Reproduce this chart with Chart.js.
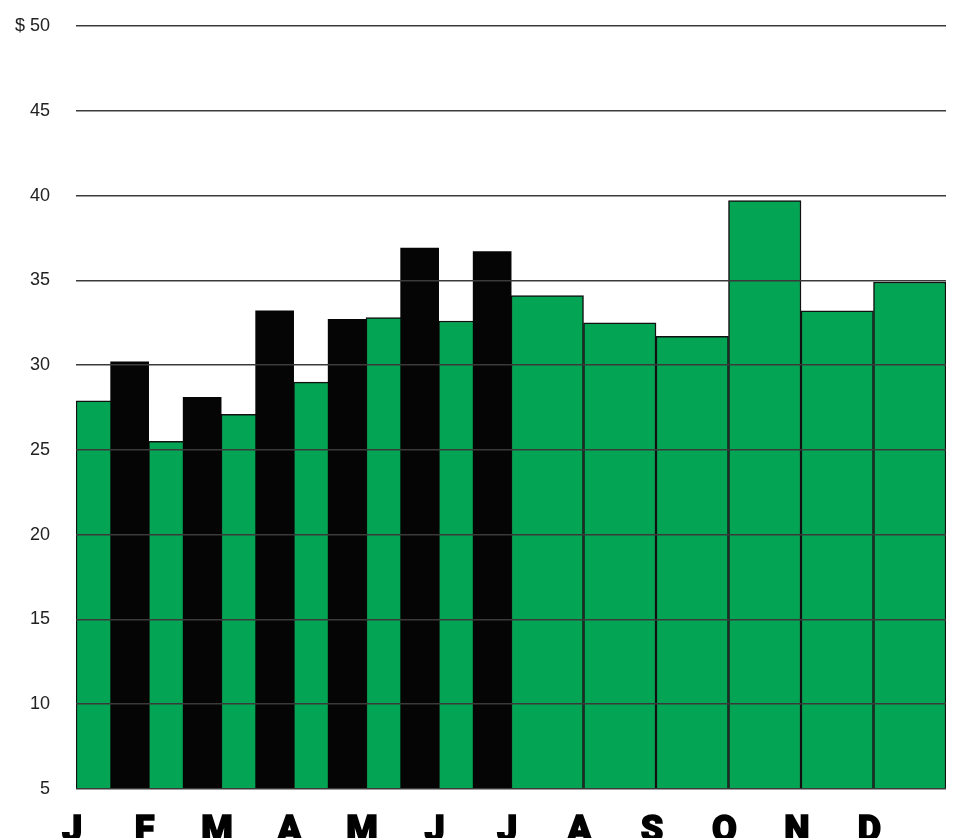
<!DOCTYPE html>
<html lang="en">
<head>
    <meta charset="UTF-8">
    <title>Monthly chart</title>
    <script src="https://cdn.jsdelivr.net/npm/chart.js"></script>
    <style>
        body { margin: 0; background: #fff; }
        .wrap { width: 956px; height: 838px; position: relative; }
    </style>
</head>
<body>
    <div class="wrap">
        <canvas id="monthChart"></canvas>
    </div>

    <script>
        // data
        const months = ['J', 'F', 'M', 'A', 'M', 'J', 'J', 'A', 'S', 'O', 'N', 'D'];
        const greenValues = [27.9, 25.5, 27.1, 29.0, 32.8, 32.6, 34.1, 32.5, 31.7, 39.7, 33.2, 34.9];
        const blackValues = [null, 30.2, 28.1, 33.2, 32.7, 36.9, 36.7, null, null, null, null, null];
        const yTicks = [5, 10, 15, 20, 25, 30, 35, 40, 45, 50];

        // black bars sit just left of the month boundary
        const BLACK_SHIFT = 0.26;

        const blackPoints = [];
        blackValues.forEach(function(v, i) {
            if (v !== null) blackPoints.push({ x: i - BLACK_SHIFT, y: v });
        });

        const ctx = document.getElementById('monthChart').getContext('2d');
        new Chart(ctx, {
            type: 'bar',
            data: {
                labels: months,
                datasets: [{
                    label: 'black',
                    data: blackPoints,
                    xAxisID: 'xb',
                    grouped: false,
                    backgroundColor: '#050505',
                    borderWidth: 0,
                    barThickness: 38,
                    order: 0
                }, {
                    label: 'green',
                    data: greenValues,
                    xAxisID: 'x',
                    grouped: false,
                    backgroundColor: '#03a453',
                    borderColor: '#111',
                    borderWidth: 1.5,
                    barPercentage: 1,
                    categoryPercentage: 1,
                    order: 1
                }]
            },
            options: {
                responsive: true,
                maintainAspectRatio: false,
                animation: false,
                layout: {
                    padding: { top: 26, right: 10, bottom: 0, left: 0 }
                },
                plugins: {
                    legend: { display: false },
                    tooltip: { enabled: false }
                },
                scales: {
                    x: {
                        type: 'category',
                        display: false,
                        offset: true,
                        ticks: { display: false }
                    },
                    xb: {
                        type: 'linear',
                        position: 'bottom',
                        min: 0,
                        max: 12,
                        offset: false,
                        // invisible tick marks used as spacing under the plot
                        grid: { display: false, drawTicks: true, tickLength: 21, tickColor: 'rgba(0,0,0,0)' },
                        border: { display: false },
                        ticks: {
                            stepSize: 1,
                            padding: 0,
                            labelOffset: -4,
                            color: '#000',
                            textStrokeColor: '#000',
                            textStrokeWidth: 1.5,
                            font: { family: 'Roboto, "Liberation Sans", sans-serif', size: 36, weight: '900' },
                            callback: function(v) { return months[v] !== undefined ? months[v] : ''; }
                        },
                        afterFit: function(s) { s.height = 49; }
                    },
                    y: {
                        min: 5,
                        max: 50,
                        grid: {
                            color: '#3a3a3a',
                            lineWidth: 1.5,
                            drawTicks: true,
                            tickLength: 26,
                            tickColor: 'rgba(0,0,0,0)',
                            z: 1
                        },
                        border: { display: false },
                        afterBuildTicks: function(s) {
                            s.ticks = yTicks.map(function(v) { return { value: v }; });
                        },
                        ticks: {
                            padding: 0,
                            color: '#222',
                            font: { family: '"Liberation Sans", Arial, sans-serif', size: 18 },
                            callback: function(v) { return v === 50 ? '$ 50' : v; }
                        },
                        afterFit: function(s) { s.width = 76; }
                    }
                }
            }
        });
    </script>
</body>
</html>
